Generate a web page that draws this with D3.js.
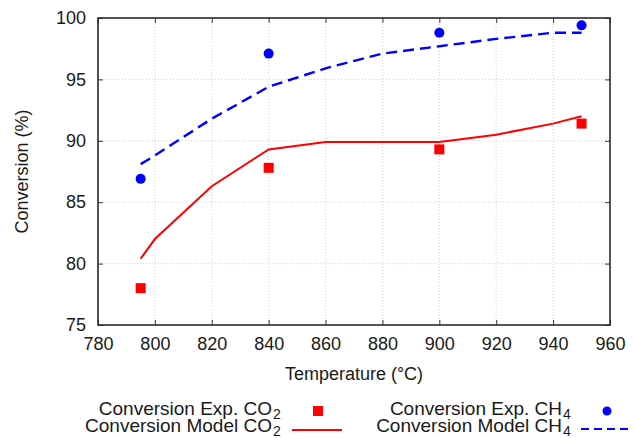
<!DOCTYPE html>
<html>
<head>
<meta charset="utf-8">
<script src="https://cdn.jsdelivr.net/npm/d3@7"></script>
<style>
  body { margin: 0; background: #fff; }
  text { font-family: "Liberation Sans", Arial, sans-serif; fill: #1a1a1a; }
</style>
</head>
<body>
<script>
// tick values
const tempTicks = [780, 800, 820, 840, 860, 880, 900, 920, 940, 960];
const convTicks = [75, 80, 85, 90, 95, 100];

// experimental points
const expTemps = [795, 840, 900, 950];
const expCO2 = [78.0, 87.8, 89.3, 91.4];
const expCH4 = [86.9, 97.1, 98.8, 99.4];

// model curves
const modelTemps = [795, 800, 820, 840, 860, 880, 900, 920, 940, 950];
const modelCO2 = [80.4, 82.0, 86.3, 89.3, 89.9, 89.9, 89.9, 90.5, 91.4, 92.0];
const modelCH4 = [88.1, 88.8, 91.8, 94.4, 95.9, 97.1, 97.7, 98.3, 98.8, 98.8];

const width = 633, height = 438;
const margin = { top: 18, right: 23, bottom: 113, left: 98 };
const innerW = width - margin.left - margin.right;
const innerH = height - margin.top - margin.bottom;

const svg = d3.select('body').append('svg')
    .attr('width', width)
    .attr('height', height);

const x = d3.scaleLinear().domain([780, 960]).range([margin.left, margin.left + innerW]);
const y = d3.scaleLinear().domain([75, 100]).range([margin.top + innerH, margin.top]);

// grid
const grid = svg.append('g')
    .attr('stroke', '#cfcfcf')
    .attr('stroke-width', 1)
    .attr('stroke-dasharray', '1,2');
grid.selectAll('.vg').data(tempTicks.slice(1, -1)).enter().append('line')
    .attr('x1', d => x(d)).attr('x2', d => x(d))
    .attr('y1', y(75)).attr('y2', y(100));
grid.selectAll('.hg').data(convTicks.slice(1, -1)).enter().append('line')
    .attr('x1', x(780)).attr('x2', x(960))
    .attr('y1', d => y(d)).attr('y2', d => y(d));

// axes with inward ticks
function styleAxis(g) {
    g.select('.domain').remove();
    g.selectAll('.tick line').attr('stroke', '#333').attr('stroke-width', 1);
    g.selectAll('.tick text').style('font-size', '18px').attr('fill', '#1a1a1a');
}

svg.append('g')
    .attr('transform', `translate(0,${y(75)})`)
    .call(d3.axisBottom(x).tickValues(tempTicks).tickSizeInner(-5).tickSizeOuter(0).tickPadding(12))
    .call(styleAxis);

svg.append('g')
    .attr('transform', `translate(0,${y(100)})`)
    .call(d3.axisTop(x).tickValues(tempTicks).tickSizeInner(-5).tickSizeOuter(0).tickFormat(''))
    .call(styleAxis);

svg.append('g')
    .attr('transform', `translate(${x(780)},0)`)
    .call(d3.axisLeft(y).tickValues(convTicks).tickSizeInner(-5).tickSizeOuter(0).tickPadding(12))
    .call(styleAxis);

svg.append('g')
    .attr('transform', `translate(${x(960)},0)`)
    .call(d3.axisRight(y).tickValues(convTicks).tickSizeInner(-5).tickSizeOuter(0).tickFormat(''))
    .call(styleAxis);

// frame
svg.append('rect')
    .attr('x', x(780)).attr('y', y(100))
    .attr('width', x(960) - x(780)).attr('height', y(75) - y(100))
    .attr('fill', 'none')
    .attr('stroke', '#2a2a2a')
    .attr('stroke-width', 1.6);

// model lines
const line = d3.line().x(d => x(d[0])).y(d => y(d[1]));

svg.append('path')
    .datum(d3.zip(modelTemps, modelCO2))
    .attr('d', line)
    .attr('fill', 'none')
    .attr('stroke', '#ff0000')
    .attr('stroke-width', 2);

svg.append('path')
    .datum(d3.zip(modelTemps, modelCH4))
    .attr('d', line)
    .attr('fill', 'none')
    .attr('stroke', '#0000ff')
    .attr('stroke-width', 2.4)
    .attr('stroke-dasharray', '11,6');

// experimental markers
svg.append('g').selectAll('rect')
    .data(d3.zip(expTemps, expCO2))
    .enter().append('rect')
    .attr('x', d => x(d[0]) - 5)
    .attr('y', d => y(d[1]) - 5)
    .attr('width', 10).attr('height', 10)
    .attr('fill', '#ff0000');

svg.append('g').selectAll('circle')
    .data(d3.zip(expTemps, expCH4))
    .enter().append('circle')
    .attr('cx', d => x(d[0]))
    .attr('cy', d => y(d[1]))
    .attr('r', 5)
    .attr('fill', '#0000ff');

// axis titles
svg.append('text')
    .attr('x', (x(780) + x(960)) / 2)
    .attr('y', 380)
    .attr('text-anchor', 'middle')
    .style('font-size', '18px')
    .text('Temperature (°C)');

svg.append('text')
    .attr('transform', `translate(28,${(y(75) + y(100)) / 2}) rotate(-90)`)
    .attr('text-anchor', 'middle')
    .style('font-size', '18px')
    .text('Conversion (%)');

// legend
const legendItems = [
    { label: 'Conversion Exp. CO', sub: '2', tx: 272, ty: 415, kind: 'square', color: '#ff0000', mx: 318, my: 411 },
    { label: 'Conversion Model CO', sub: '2', tx: 272, ty: 432, kind: 'line', color: '#ff0000', mx: 292, my: 430 },
    { label: 'Conversion Exp. CH', sub: '4', tx: 562, ty: 415, kind: 'circle', color: '#0000ff', mx: 607, my: 411 },
    { label: 'Conversion Model CH', sub: '4', tx: 562, ty: 432, kind: 'dash', color: '#0000ff', mx: 581, my: 429 }
];

const legend = svg.append('g');
legendItems.forEach(item => {
    legend.append('text')
        .attr('x', item.tx)
        .attr('y', item.ty)
        .attr('text-anchor', 'end')
        .style('font-size', '19px')
        .text(item.label);
    // subscript placed after the text
    legend.append('text')
        .attr('x', item.tx + 1)
        .attr('y', item.ty + 4)
        .style('font-size', '14px')
        .text(item.sub);

    if (item.kind === 'square') {
        legend.append('rect')
            .attr('x', item.mx - 5).attr('y', item.my - 5)
            .attr('width', 10).attr('height', 10)
            .attr('fill', item.color);
    } else if (item.kind === 'circle') {
        legend.append('circle')
            .attr('cx', item.mx).attr('cy', item.my).attr('r', 4.5)
            .attr('fill', item.color);
    } else {
        legend.append('line')
            .attr('x1', item.mx).attr('x2', item.mx + 50)
            .attr('y1', item.my).attr('y2', item.my)
            .attr('stroke', item.color)
            .attr('stroke-width', 2)
            .attr('stroke-dasharray', item.kind === 'dash' ? '8,5' : null);
    }
});
</script>
</body>
</html>
